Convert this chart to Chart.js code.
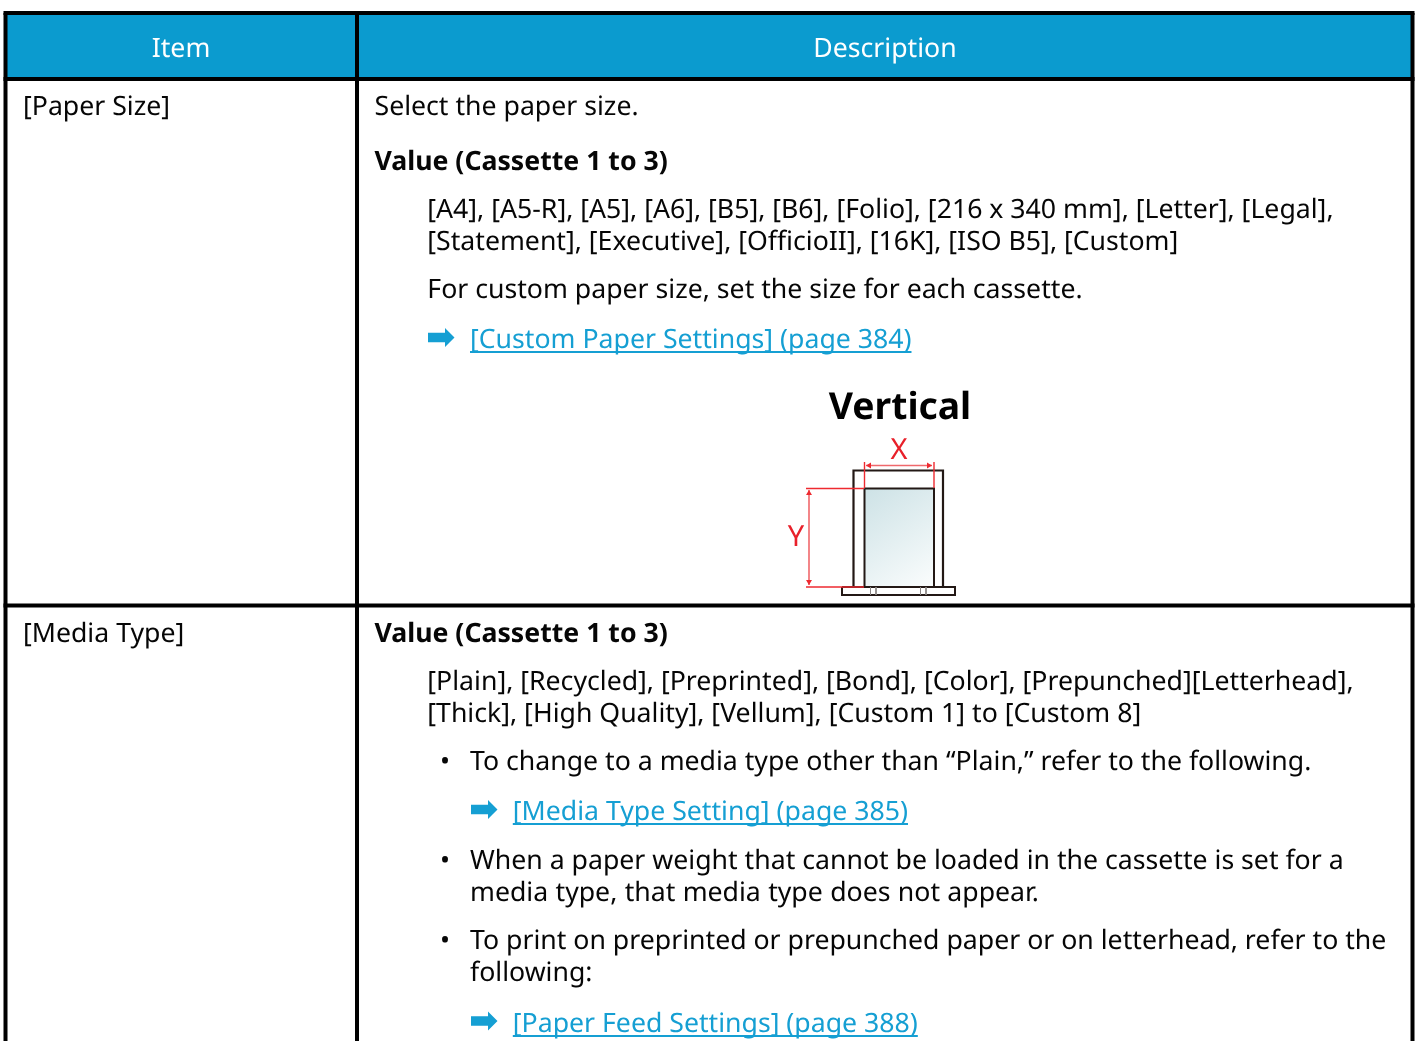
<!DOCTYPE html>
<html><head><meta charset="utf-8">
<script src="https://cdn.jsdelivr.net/npm/chart.js@4"></script>
<style>
html,body{margin:0;padding:0;background:#fff;width:1416px;height:1041px;overflow:hidden}
#wrap{position:relative;width:1416px;height:1041px;overflow:hidden;font-family:"Noto Sans",sans-serif;color:#060606;text-rendering:geometricPrecision}
canvas{position:absolute;left:0;top:0}
.t{position:absolute;white-space:pre;font-size:26.67px;line-height:32px}
.h{color:#fff;transform:translateX(-50%)}
.b{font-weight:700}
.l{color:#159fd3;text-decoration:underline;text-decoration-thickness:2px;text-underline-offset:3px;text-decoration-skip-ink:none}
.v{font-size:37.3px;font-weight:700;color:#000;transform:translateX(-50%)}
.r{font-size:29px;color:#e8202a;font-weight:400;line-height:32px;transform:translateX(-50%)}
</style></head><body>
<div id="wrap"><canvas id="c" width="1416" height="1041"></canvas></div>
<script>
// ---- table text ----
const headerLabels = ["Item", "Description"];
const itemLabels = ["[Paper Size]", "[Media Type]"];
const paperLines = ["Select the paper size.",
 "[A4], [A5-R], [A5], [A6], [B5], [B6], [Folio], [216 x 340 mm], [Letter], [Legal],",
 "[Statement], [Executive], [OfficioII], [16K], [ISO B5], [Custom]",
 "For custom paper size, set the size for each cassette."];
const valueHeading = "Value (Cassette 1 to 3)";
const mediaLines = ["[Plain], [Recycled], [Preprinted], [Bond], [Color], [Prepunched][Letterhead],",
 "[Thick], [High Quality], [Vellum], [Custom 1] to [Custom 8]"];
const bulletLines = ["To change to a media type other than \u201cPlain,\u201d refer to the following.",
 "When a paper weight that cannot be loaded in the cassette is set for a",
 "media type, that media type does not appear.",
 "To print on preprinted or prepunched paper or on letterhead, refer to the",
 "following:"];
const linkLabels = ["[Custom Paper Settings] (page 384)", "[Media Type Setting] (page 385)", "[Paper Feed Settings] (page 388)"];
const figureTitle = "Vertical";
const figureAxes = ["X", "Y"];

// ---- table frame and figure outlines, in page units ----
const frameX = [5.5, 357, 1412.5];
const frameY = [13, 79, 605.5, 1041];
const arrowShape = [[0,-4.8],[17,-4.8],[17,-9.5],[26.5,0],[17,9.5],[17,4.8],[0,4.8],[0,-4.8]];
const arrowAnchors = [[428,337.5],[471,809.5],[471,1021]];
const cabinet = [[853.5,587],[853.5,470.5],[943,470.5],[943,587]];
const paperSheet = [[864.5,488.5],[934,488.5],[934,587],[864.5,587],[864.5,488.5]];
const baseTray = [[842,587],[955,587],[955,595],[842,595],[842,587]];
const trayTicks = [870.5,876,920.5,926];
const dimensionX = [[864.5,488],[864.5,462]];
const dimensionX2 = [[934,488],[934,462]];
const dimensionXLine = [[866,465.5],[932,465.5]];
const dimensionY = [[806,488.5],[864,488.5]];
const dimensionY2 = [[806,587],[864,587]];
const dimensionYLine = [[809,490],[809,585]];

const P = a => a.map(p => ({x:p[0], y:p[1]}));
const datasets = [];
function line(pts, color, width, extra){ datasets.unshift(Object.assign({data:P(pts),borderColor:color,borderWidth:width,showLine:true,pointRadius:0,fill:false,tension:0},extra||{})); }
const BLUE = "#0b9bcf", RED = "#ee2a30", INK = "#231815";

// header band
line([[frameX[0],frameY[0]],[frameX[2],frameY[0]],[frameX[2],frameY[1]],[frameX[0],frameY[1]],[frameX[0],frameY[0]]],"#0b9bcf",0,{fill:"shape",backgroundColor:BLUE});
// frame rules
frameY.slice(0,3).forEach(y => line([[frameX[0]-2,y],[frameX[2]+2,y]],"#000",4));
frameX.forEach(x => line([[x,frameY[0]],[x,frameY[3]]],"#000",4));
// link arrows
arrowAnchors.forEach(a => line(arrowShape.map(p=>[a[0]+p[0],a[1]+p[1]]),"#159fd3",0,{fill:"shape",backgroundColor:"#159fd3"}));
// figure
line(paperSheet,INK,2,{fill:"shape",backgroundColor:ctx=>{
  const g=ctx.chart.ctx.createLinearGradient(865,489,934,587);
  g.addColorStop(0,"#cde2e6");g.addColorStop(1,"#fbfdfd");return g;}});
line(cabinet,INK,2.2);
line(baseTray,INK,2);
trayTicks.forEach(x=>line([[x,587],[x,595]],"#8a8583",1));
[dimensionX,dimensionX2,dimensionY,dimensionY2].forEach(d=>line(d,RED,1.4));
line(dimensionXLine,"#f0686c",1.6);
line(dimensionYLine,"#f0686c",1.6);
[[dimensionXLine[0],[5,-3],[5,3]],[dimensionXLine[1],[-5,-3],[-5,3]],[dimensionYLine[0],[-3,5],[3,5]],[dimensionYLine[1],[-3,-5],[3,-5]]].forEach(([t,a,b])=>{
  line([[t[0],t[1]],[t[0]+a[0],t[1]+a[1]],[t[0]+b[0],t[1]+b[1]],[t[0],t[1]]],RED,0,{fill:"shape",backgroundColor:RED});
});

new Chart(document.getElementById("c"),{type:"scatter",data:{datasets},options:{
  responsive:false,animation:false,devicePixelRatio:1,layout:{padding:0},
  plugins:{legend:{display:false},tooltip:{enabled:false}},
  scales:{x:{type:"linear",min:0,max:1416,display:false},y:{type:"linear",min:0,max:1041,reverse:true,display:false}}
}});

// ---- text overlay ----
const wrap=document.getElementById("wrap");
function T(s,x,base,cls){const d=document.createElement("div");d.className="t "+(cls||"");d.textContent=s;d.style.left=x+"px";
  d.style.top=(base-26)+"px";wrap.appendChild(d);return d;}
T(headerLabels[0],181,57,"h");T(headerLabels[1],885,57,"h");
T(itemLabels[0],23,115);T(paperLines[0],374.5,115);
T(valueHeading,374.5,170,"b");
T(paperLines[1],427.3,218);T(paperLines[2],427.3,250);T(paperLines[3],427.3,298);
T(linkLabels[0],470,348,"l");
T(figureTitle,900,415,"v");
T(figureAxes[0],899,459,"r");T(figureAxes[1],796,546,"r");
T(itemLabels[1],23,642);T(valueHeading,374.5,642,"b");
T(mediaLines[0],427.3,690);T(mediaLines[1],427.3,722);
T("\u2022",440,770);T(bulletLines[0],470,770);
T(linkLabels[1],512.8,820,"l");
T("\u2022",440,869);T(bulletLines[1],470,869);T(bulletLines[2],470,901).style.wordSpacing="0.4px";
T("\u2022",440,949);T(bulletLines[3],470,949);T(bulletLines[4],470,981);
T(linkLabels[2],512.8,1032,"l");
</script></body></html>
